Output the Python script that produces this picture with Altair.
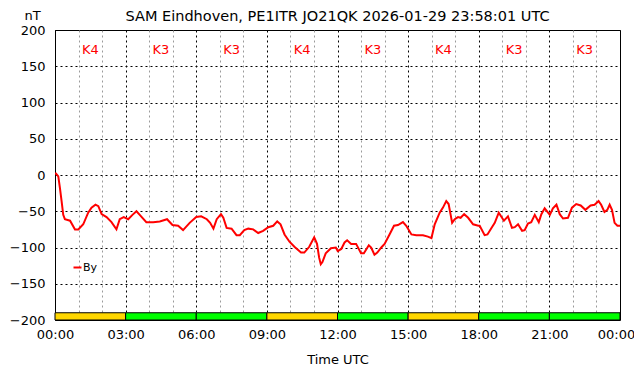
import altair as alt
import pandas as pd

title_text = "SAM Eindhoven, PE1ITR JO21QK 2026-01-29 23:58:01 UTC"

hours = [0.0, 0.04, 0.14, 0.21, 0.28, 0.35, 0.42, 0.64, 0.85, 0.99, 1.2, 1.41, 1.55, 1.72, 1.84,
         1.98, 2.19, 2.4, 2.61, 2.75, 2.92, 3.11, 3.29, 3.46, 3.6, 3.88, 4.17, 4.45, 4.76, 4.99,
         5.23, 5.44, 5.72, 6.0, 6.21, 6.45, 6.59, 6.73, 6.87, 7.05, 7.15, 7.29, 7.5, 7.71, 7.85,
         8.04, 8.21, 8.42, 8.63, 8.84, 9.06, 9.27, 9.44, 9.58, 9.75, 9.96, 10.17, 10.45, 10.59,
         10.8, 11.01, 11.13, 11.22, 11.29, 11.36, 11.5, 11.72, 11.93, 12.01, 12.16, 12.3, 12.41,
         12.58, 12.79, 13.0, 13.12, 13.33, 13.43, 13.57, 13.69, 13.86, 14.0, 14.21, 14.4, 14.57,
         14.78, 14.92, 15.14, 15.35, 15.63, 15.84, 15.99, 16.13, 16.34, 16.48, 16.62, 16.72,
         16.87, 16.98, 17.12, 17.23, 17.38, 17.55, 17.76, 17.98, 18.04, 18.25, 18.37, 18.54,
         18.68, 18.85, 19.07, 19.24, 19.41, 19.53, 19.67, 19.84, 19.95, 20.09, 20.23, 20.38,
         20.55, 20.66, 20.8, 21.02, 21.15, 21.3, 21.44, 21.58, 21.79, 21.96, 22.14, 22.33, 22.53,
         22.75, 22.92, 23.09, 23.2, 23.34, 23.46, 23.56, 23.66, 23.77, 23.89, 24.0]
by_nt = [2, 2, -2, -18, -36, -55, -61, -63, -75, -75, -68, -52, -45, -41, -43,
         -54, -58, -65, -75, -61, -58, -61, -55, -50, -55, -65, -65, -64, -61, -69,
         -70, -76, -66, -58, -57, -61, -66, -74, -61, -54, -59, -73, -74, -83, -83,
         -76, -74, -75, -80, -77, -72, -70, -64, -68, -82, -92, -99, -107, -107,
         -99, -86, -95, -114, -123, -120, -108, -101, -100, -105, -102, -93, -90,
         -95, -95, -108, -108, -97, -100, -110, -107, -100, -95, -82, -70, -69,
         -65, -70, -82, -83, -83, -85, -87, -68, -52, -45, -36, -40,
         -66, -61, -58, -59, -54, -59, -68, -70, -70, -83, -82, -73,
         -66, -52, -63, -57, -73, -72, -68, -77, -76, -67, -65, -55,
         -65, -54, -46, -55, -46, -41, -54, -60, -59, -45, -40, -42, -48,
         -42, -41, -36, -41, -51, -48, -41, -48, -66, -70, -70]

k_start = [0, 3, 6, 9, 12, 15, 18, 21]
k_index = [4, 3, 3, 4, 3, 4, 3, 3]
k_bar_bottom = -200
k_bar_top = -190
k_label_level = 172

FONT = "DejaVu Sans"

line_df = pd.DataFrame({"h": hours, "by": by_nt, "series": ["By"] * len(hours)})
k_df = pd.DataFrame({
    "start": k_start,
    "end": [s + 3 for s in k_start],
    "mid": [s + 1.5 for s in k_start],
    "k": k_index,
    "label": ["K%d" % k for k in k_index],
    "lo": [k_bar_bottom] * len(k_start),
    "hi": [k_bar_top] * len(k_start),
    "ty": [k_label_level] * len(k_start),
})

xscale = alt.Scale(domain=[0, 24], nice=False, zero=False)
yscale = alt.Scale(domain=[-200, 200], nice=False, zero=False)

x_axis = alt.Axis(
    values=list(range(25)),
    labelExpr="datum.value % 3 == 0 ? ((datum.value % 24 < 10 ? '0' : '') + (datum.value % 24) + ':00') : ''",
    labelOffset={"condition": {"test": "datum.value == 24", "value": -4}, "value": 0},
    grid=True,
    gridColor={"condition": {"test": "datum.value % 3 == 0", "value": "black"}, "value": "#9a9a9a"},
    gridDash=[2, 3],
    gridWidth=1,
    gridOpacity=1,
    ticks=False,
    domain=False,
    title="Time UTC",
    labelFontSize=13,
    titleFontSize=13,
    titleFontWeight="normal",
    labelPadding=8,
    titlePadding=12,
    labelOverlap=False,
    labelFlush=False,
    labelColor="black",
    titleColor="black",
)
y_axis = alt.Axis(
    values=list(range(-200, 201, 50)),
    grid=True,
    gridColor="black",
    gridDash=[2, 3],
    gridOpacity=1,
    ticks=False,
    domain=False,
    title="nT",
    titleAngle=0,
    titleX=-23,
    titleY=-8,
    titleAlign="center",
    titleFontSize=13,
    titleFontWeight="normal",
    labelFontSize=13,
    labelPadding=10,
    labelColor="black",
    titleColor="black",
)

line = alt.Chart(line_df).mark_line(strokeWidth=2, interpolate="linear").encode(
    x=alt.X("h:Q", scale=xscale, axis=x_axis),
    y=alt.Y("by:Q", scale=yscale, axis=y_axis),
    color=alt.Color(
        "series:N",
        scale=alt.Scale(domain=["By"], range=["#ff0000"]),
        legend=alt.Legend(
            title=None,
            orient="none",
            legendX=17,
            legendY=232,
            symbolType="stroke",
            symbolSize=64,
            symbolStrokeWidth=2,
            labelFontSize=11,
            labelOffset=0,
            padding=0,
            labelColor="black",
        ),
    ),
)

bars = alt.Chart(k_df).mark_rect(stroke="black", strokeWidth=1).encode(
    x=alt.X("start:Q", scale=xscale, axis=x_axis),
    x2="end:Q",
    y=alt.Y("lo:Q", scale=yscale, axis=y_axis),
    y2="hi:Q",
    color=alt.Color("k:O", scale=alt.Scale(domain=[3, 4], range=["#00ff00", "#ffd700"]), legend=None),
)

labels = alt.Chart(k_df).mark_text(color="#ff0000", fontSize=13, font=FONT).encode(
    x=alt.X("mid:Q", scale=xscale, axis=x_axis),
    y=alt.Y("ty:Q", scale=yscale, axis=y_axis),
    text="label:N",
)

chart = (
    alt.layer(line, bars, labels)
    .resolve_scale(color="independent")
    .properties(
        width=565,
        height=290,
        autosize=alt.AutoSizeParams(type="none"),
        padding={"left": 47, "top": 22, "right": 14, "bottom": 48},
        title=alt.TitleParams(title_text, fontSize=14.5, font=FONT, fontWeight="normal",
                              anchor="middle", offset=0, dy=15, color="black"),
    )
    .configure(font=FONT)
    .configure_view(stroke="black", strokeWidth=1)
    .configure_axis(labelFont=FONT, titleFont=FONT)
)

chart.save("out.html", embed_options={"renderer": "svg", "actions": False})
